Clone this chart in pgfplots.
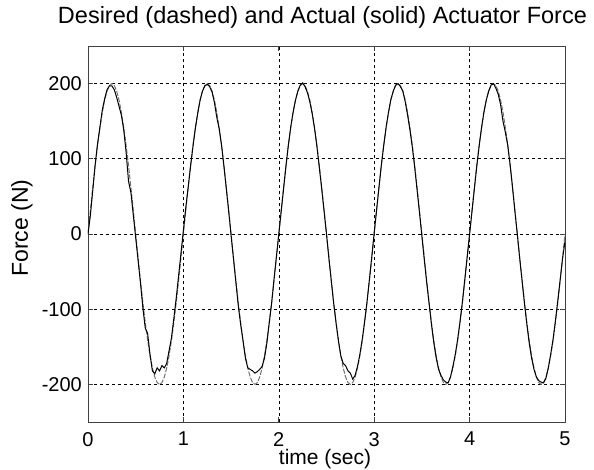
\documentclass[border=0pt]{standalone}
\usepackage{fontspec}
\setmainfont{Liberation Sans}
\usepackage{pgfplots}
\usepackage{pgfplotstable}
\pgfplotsset{compat=1.18}
\pgfplotstableread{
t d a
0.000 0 0
0.025 31.29 25
0.050 61.80 58
0.075 90.80 92
0.100 117.56 120
0.125 141.42 142
0.150 161.80 165
0.175 178.20 180
0.200 190.21 192
0.225 197.54 197
0.250 200 197
0.275 197.54 192
0.300 190.21 182
0.325 178.20 170
0.350 161.80 158
0.375 141.42 138
0.400 117.56 108
0.425 90.80 70
0.450 61.80 55
0.475 31.29 25
0.500 0 -5
0.525 -31.29 -35
0.550 -61.80 -65
0.575 -90.80 -98
0.600 -117.56 -125
0.625 -141.42 -132
0.650 -161.80 -160
0.675 -178.20 -182
0.700 -190.21 -186
0.725 -197.54 -178
0.750 -200 -182
0.775 -197.54 -175
0.800 -190.21 -178
0.825 -178.20 -172
0.850 -161.80 -155
0.875 -141.42 -138
0.900 -117.56 -112
0.925 -90.80 -85
0.950 -61.80 -55
0.975 -31.29 -25
1.000 0 5
1.025 31.29 35
1.050 61.80 62
1.075 90.80 90
1.100 117.56 116
1.125 141.42 140
1.150 161.80 160
1.175 178.20 178
1.200 190.21 190
1.225 197.54 197
1.250 200 199
1.275 197.54 196
1.300 190.21 189
1.325 178.20 175
1.350 161.80 155
1.375 141.42 140
1.400 117.56 118
1.425 90.80 90
1.450 61.80 60
1.475 31.29 30
1.500 0 -2
1.525 -31.29 -33
1.550 -61.80 -64
1.575 -90.80 -95
1.600 -117.56 -120
1.625 -141.42 -142
1.650 -161.80 -165
1.675 -178.20 -178
1.700 -190.21 -180
1.725 -197.54 -182
1.750 -200 -185
1.775 -197.54 -183
1.800 -190.21 -180
1.825 -178.20 -176
1.850 -161.80 -165
1.875 -141.42 -145
1.900 -117.56 -118
1.925 -90.80 -92
1.950 -61.80 -60
1.975 -31.29 -30
2.000 0 0
2.025 31.29 30
2.050 61.80 60
2.075 90.80 90
2.100 117.56 118
2.125 141.42 142
2.150 161.80 162
2.175 178.20 178
2.200 190.21 190
2.225 197.54 198
2.250 200 201
2.275 197.54 196
2.300 190.21 188
2.325 178.20 176
2.350 161.80 160
2.375 141.42 140
2.400 117.56 116
2.425 90.80 88
2.450 61.80 60
2.475 31.29 30
2.500 0 0
2.525 -31.29 -32
2.550 -61.80 -62
2.575 -90.80 -92
2.600 -117.56 -118
2.625 -141.42 -142
2.650 -161.80 -162
2.675 -178.20 -172
2.700 -190.21 -175
2.725 -197.54 -182
2.750 -200 -185
2.775 -197.54 -193
2.800 -190.21 -188
2.825 -178.20 -176
2.850 -161.80 -160
2.875 -141.42 -140
2.900 -117.56 -116
2.925 -90.80 -90
2.950 -61.80 -60
2.975 -31.29 -30
3.000 0 2
3.025 31.29 32
3.050 61.80 62
3.075 90.80 92
3.100 117.56 118
3.125 141.42 142
3.150 161.80 162
3.175 178.20 179
3.200 190.21 190
3.225 197.54 198
3.250 200 200
3.275 197.54 196
3.300 190.21 190
3.325 178.20 176
3.350 161.80 158
3.375 141.42 138
3.400 117.56 115
3.425 90.80 88
3.450 61.80 58
3.475 31.29 28
3.500 0 -3
3.525 -31.29 -34
3.550 -61.80 -64
3.575 -90.80 -92
3.600 -117.56 -120
3.625 -141.42 -145
3.650 -161.80 -165
3.675 -178.20 -180
3.700 -190.21 -188
3.725 -197.54 -194
3.750 -200 -197
3.775 -197.54 -198
3.800 -190.21 -190
3.825 -178.20 -176
3.850 -161.80 -160
3.875 -141.42 -140
3.900 -117.56 -116
3.925 -90.80 -90
3.950 -61.80 -60
3.975 -31.29 -30
4.000 0 0
4.025 31.29 30
4.050 61.80 60
4.075 90.80 90
4.100 117.56 117
4.125 141.42 141
4.150 161.80 162
4.175 178.20 178
4.200 190.21 190
4.225 197.54 198
4.250 200 200
4.275 197.54 194
4.300 190.21 186
4.325 178.20 172
4.350 161.80 150
4.375 141.42 135
4.400 117.56 118
4.425 90.80 92
4.450 61.80 62
4.475 31.29 30
4.500 0 0
4.525 -31.29 -32
4.550 -61.80 -62
4.575 -90.80 -92
4.600 -117.56 -120
4.625 -141.42 -145
4.650 -161.80 -165
4.675 -178.20 -180
4.700 -190.21 -190
4.725 -197.54 -195
4.750 -200 -197
4.775 -197.54 -198
4.800 -190.21 -192
4.825 -178.20 -178
4.850 -161.80 -160
4.875 -141.42 -140
4.900 -117.56 -115
4.925 -90.80 -88
4.950 -61.80 -60
4.975 -31.29 -32
5.000 0 -10
}\forcedata
\begin{document}
\begin{tikzpicture}
\begin{axis}[
  at={(0pt,0pt)}, anchor=south west,
  width=477pt, height=376pt, scale only axis,
  xmin=0, xmax=5, ymin=-250, ymax=250,
  xtick={0,1,2,3,4,5}, ytick={-200,-100,0,100,200},
  grid=major,
  grid style={black, line width=0.6pt, dash pattern=on 3pt off 3pt},
  axis line style={black!75, line width=0.9pt},
  tick align=inside, major tick length=5pt,
  tick style={black!75, line width=0.8pt},
  /pgf/number format/assume math mode=true,
  ticklabel style={font=\fontsize{20}{24}\selectfont, inner sep=0pt},
  xticklabel style={anchor=north, yshift=-10pt},
  yticklabel style={anchor=east, xshift=-6pt},
  title={Desired (dashed) and Actual (solid) Actuator Force},
  title style={at={(axis description cs:0.4916,1.0452)}, anchor=base, inner sep=0pt, font=\fontsize{23.5}{28}\selectfont},
  xlabel={time (sec)},
  xlabel style={at={(axis description cs:0.497,-0.1117)}, anchor=base, inner sep=0pt, font=\fontsize{21}{25}\selectfont},
  ylabel={Force (N)},
  ylabel style={at={(axis description cs:-0.1258,0.516)}, anchor=base, inner sep=0pt, font=\fontsize{23}{27}\selectfont},
]
\addplot[black!55, line width=1.0pt, dash pattern=on 5pt off 1.5pt] table[x=t, y=d] {\forcedata};
\addplot[black, line width=1.0pt] table[x=t, y=a] {\forcedata};
\end{axis}
\pgfresetboundingbox
\useasboundingbox (-88pt,-47pt) rectangle (506pt,422pt);
\end{tikzpicture}
\end{document}
